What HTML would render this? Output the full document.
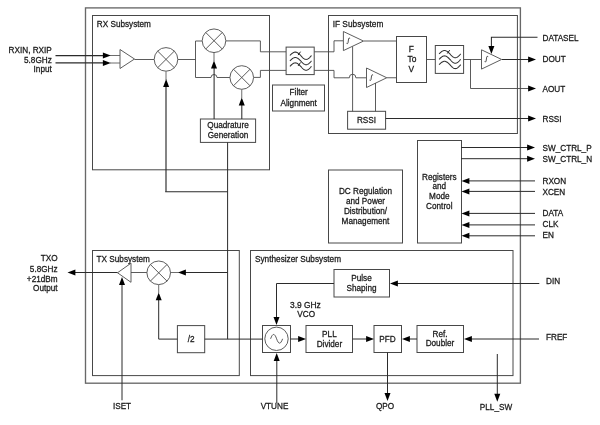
<!DOCTYPE html>
<html><head><meta charset="utf-8"><title>Block diagram</title>
<style>
html,body{margin:0;padding:0;background:#fff;}
body{width:600px;height:425px;overflow:hidden;}
svg{display:block;filter:grayscale(1) blur(0.3px);font-family:"Liberation Sans",sans-serif;}
text{fill:#1a1a1a;stroke:#1a1a1a;stroke-width:0.28px;}
</style></head><body>
<svg width="600" height="425" viewBox="0 0 600 425">
<rect width="600" height="425" fill="#fff"/>
<rect x="85.5" y="7.9" width="434.9" height="375.3" fill="none" stroke="#686868" stroke-width="1.35"/>
<rect x="92.5" y="15.5" width="177.0" height="154.3" fill="none" stroke="#484848" stroke-width="1"/>
<rect x="328.5" y="15.5" width="188.89999999999998" height="118.0" fill="none" stroke="#484848" stroke-width="1"/>
<rect x="92.5" y="250.5" width="146.8" height="125.10000000000002" fill="none" stroke="#484848" stroke-width="1"/>
<rect x="250.5" y="250.5" width="262.5" height="125.10000000000002" fill="none" stroke="#484848" stroke-width="1"/>
<rect x="417.5" y="140.5" width="44.0" height="102.5" fill="none" stroke="#484848" stroke-width="1"/>
<rect x="328.5" y="170" width="74.0" height="73" fill="none" stroke="#484848" stroke-width="1"/>
<rect x="272.5" y="85" width="52.0" height="26" fill="none" stroke="#484848" stroke-width="1"/>
<rect x="200.4" y="119" width="55.19999999999999" height="23.400000000000006" fill="none" stroke="#484848" stroke-width="1"/>
<rect x="347.6" y="111.3" width="38.0" height="17.89999999999999" fill="none" stroke="#484848" stroke-width="1"/>
<rect x="396.5" y="36.5" width="30.0" height="46.0" fill="none" stroke="#484848" stroke-width="1"/>
<rect x="334" y="269.5" width="55.5" height="27.5" fill="none" stroke="#484848" stroke-width="1"/>
<rect x="262.5" y="325.5" width="28.0" height="27.0" fill="none" stroke="#484848" stroke-width="1"/>
<rect x="306" y="325.5" width="46.5" height="27.0" fill="none" stroke="#484848" stroke-width="1"/>
<rect x="374" y="325.5" width="27.5" height="27.0" fill="none" stroke="#484848" stroke-width="1"/>
<rect x="417" y="325.5" width="46.5" height="27.0" fill="none" stroke="#484848" stroke-width="1"/>
<rect x="177.4" y="325.6" width="27.299999999999983" height="27.099999999999966" fill="none" stroke="#484848" stroke-width="1"/>
<path d="M55.5 55.6 L104 55.6" fill="none" stroke="#2b2b2b" stroke-width="1.3"/>
<polygon points="110.8,55.6 102.89999999999999,52.6 102.89999999999999,58.6" fill="#000" stroke="none"/>
<path d="M55.5 62.9 L104 62.9" fill="none" stroke="#2b2b2b" stroke-width="1.3"/>
<polygon points="110.8,63.1 102.89999999999999,60.1 102.89999999999999,66.1" fill="#000" stroke="none"/>
<path d="M110 55.5 L120 55.5" fill="none" stroke="#484848" stroke-width="0.8"/>
<path d="M110 63 L120 63" fill="none" stroke="#484848" stroke-width="0.8"/>
<polygon points="120,49.5 134.5,59.0 120,68.5" fill="#fff" stroke="#555" stroke-width="0.95"/>
<path d="M134.5 59.5 L154 59.5" fill="none" stroke="#484848" stroke-width="0.9"/>
<path d="M177.5 59.5 L195.5 59.5" fill="none" stroke="#484848" stroke-width="0.9"/>
<path d="M195.5 41 L195.5 77.5" fill="none" stroke="#484848" stroke-width="0.9"/>
<path d="M195.5 41 L202 41" fill="none" stroke="#484848" stroke-width="0.9"/>
<path d="M195.5 77.5 L211 77.5 A3 3 0 0 1 217 77.5 L230 77.5" fill="none" stroke="#484848" stroke-width="0.9"/>
<path d="M226 40.9 L260.4 40.9 L260.4 51.8 L286.5 51.8" fill="none" stroke="#484848" stroke-width="0.9"/>
<path d="M253.5 77.4 L260.4 77.4 L260.4 70.4 L286.5 70.4" fill="none" stroke="#484848" stroke-width="0.9"/>
<circle cx="166" cy="59.4" r="11.8" fill="#fff" stroke="#555" stroke-width="0.95"/>
<path d="M157.65622 51.056219999999996 L174.34378 67.74378" fill="none" stroke="#484848" stroke-width="0.9"/>
<path d="M157.65622 67.74378 L174.34378 51.056219999999996" fill="none" stroke="#484848" stroke-width="0.9"/>
<circle cx="214" cy="40.75" r="11.8" fill="#fff" stroke="#555" stroke-width="0.95"/>
<path d="M205.65622 32.40622 L222.34378 49.09378" fill="none" stroke="#484848" stroke-width="0.9"/>
<path d="M205.65622 49.09378 L222.34378 32.40622" fill="none" stroke="#484848" stroke-width="0.9"/>
<circle cx="241.75" cy="77.5" r="11.8" fill="#fff" stroke="#555" stroke-width="0.95"/>
<path d="M233.40622 69.15622 L250.09378 85.84378" fill="none" stroke="#484848" stroke-width="0.9"/>
<path d="M233.40622 85.84378 L250.09378 69.15622" fill="none" stroke="#484848" stroke-width="0.9"/>
<path d="M166 191.8 L166 86" fill="none" stroke="#2b2b2b" stroke-width="1.15"/>
<polygon points="166.1,79 163.1,86.9 169.1,86.9" fill="#000" stroke="none"/>
<path d="M166 71.5 L166 80" fill="none" stroke="#484848" stroke-width="0.8"/>
<path d="M165.2 191.8 L227.6 191.8" fill="none" stroke="#2b2b2b" stroke-width="1.1"/>
<path d="M214.1 119 L214.1 67" fill="none" stroke="#2b2b2b" stroke-width="1.05"/>
<polygon points="214,60.5 211.0,68.4 217.0,68.4" fill="#000" stroke="none"/>
<path d="M214 52.5 L214 61" fill="none" stroke="#484848" stroke-width="0.8"/>
<path d="M241.8 119 L241.8 104" fill="none" stroke="#2b2b2b" stroke-width="1.05"/>
<polygon points="241.75,97.5 238.75,105.4 244.75,105.4" fill="#000" stroke="none"/>
<path d="M241.75 89.5 L241.75 98" fill="none" stroke="#484848" stroke-width="0.8"/>
<path d="M227.6 142.4 L227.6 339.1" fill="none" stroke="#2b2b2b" stroke-width="1.0"/>
<rect x="286.1" y="47.1" width="28.099999999999966" height="27.499999999999993" fill="#fff" stroke="#484848" stroke-width="1"/>
<path d="M289.9 55.5 L290.44 54.97 L290.98 54.45 L291.52 53.96 L292.06 53.5 L292.6 53.1 L293.14 52.75 L293.68 52.47 L294.22 52.27 L294.76 52.14 L295.3 52.1 L295.84 52.14 L296.38 52.27 L296.92 52.47 L297.46 52.75 L298.0 53.1 L298.54 53.5 L299.08 53.96 L299.62 54.45 L300.16 54.97 L300.7 55.5 L301.24 56.11 L301.78 56.71 L302.32 57.27 L302.86 57.79 L303.4 58.26 L303.94 58.66 L304.48 58.97 L305.02 59.21 L305.56 59.35 L306.1 59.4 L306.64 59.35 L307.18 59.21 L307.72 58.97 L308.26 58.66 L308.8 58.26 L309.34 57.79 L309.88 57.27 L310.42 56.71 L310.96 56.11 L311.5 55.5" fill="none" stroke="#303030" stroke-width="1.05"/>
<path d="M298.1 55.1 L300.50000000000006 51.7" fill="none" stroke="#222" stroke-width="1.0"/>
<path d="M289.9 60.9 L290.44 60.37 L290.98 59.85 L291.52 59.36 L292.06 58.9 L292.6 58.5 L293.14 58.15 L293.68 57.87 L294.22 57.67 L294.76 57.54 L295.3 57.5 L295.84 57.54 L296.38 57.67 L296.92 57.87 L297.46 58.15 L298.0 58.5 L298.54 58.9 L299.08 59.36 L299.62 59.85 L300.16 60.37 L300.7 60.9 L301.24 61.51 L301.78 62.11 L302.32 62.67 L302.86 63.19 L303.4 63.66 L303.94 64.06 L304.48 64.37 L305.02 64.61 L305.56 64.75 L306.1 64.8 L306.64 64.75 L307.18 64.61 L307.72 64.37 L308.26 64.06 L308.8 63.66 L309.34 63.19 L309.88 62.67 L310.42 62.11 L310.96 61.51 L311.5 60.9" fill="none" stroke="#303030" stroke-width="1.05"/>
<path d="M289.9 66.3 L290.44 65.77 L290.98 65.25 L291.52 64.76 L292.06 64.3 L292.6 63.9 L293.14 63.55 L293.68 63.27 L294.22 63.07 L294.76 62.94 L295.3 62.9 L295.84 62.94 L296.38 63.07 L296.92 63.27 L297.46 63.55 L298.0 63.9 L298.54 64.3 L299.08 64.76 L299.62 65.25 L300.16 65.77 L300.7 66.3 L301.24 66.91 L301.78 67.51 L302.32 68.07 L302.86 68.59 L303.4 69.06 L303.94 69.46 L304.48 69.77 L305.02 70.01 L305.56 70.15 L306.1 70.2 L306.64 70.15 L307.18 70.01 L307.72 69.77 L308.26 69.46 L308.8 69.06 L309.34 68.59 L309.88 68.07 L310.42 67.51 L310.96 66.91 L311.5 66.3" fill="none" stroke="#303030" stroke-width="1.05"/>
<path d="M298.1 65.89999999999999 L300.50000000000006 62.5" fill="none" stroke="#222" stroke-width="1.0"/>
<path d="M314.25 51.8 L334 51.8 L334 40.8 L343.4 40.8" fill="none" stroke="#484848" stroke-width="0.9"/>
<path d="M314.25 70.4 L334 70.4 L334 77.8 L349.3 77.8 A3.3 3.6 0 0 1 355.9 77.8 L366.5 77.8" fill="none" stroke="#484848" stroke-width="0.9"/>
<polygon points="343.4,31.5 363.5,41.05 343.4,50.6" fill="#fff" stroke="#555" stroke-width="0.95"/>
<polygon points="366.5,68 386.75,77.75 366.5,87.5" fill="#fff" stroke="#555" stroke-width="0.95"/>
<path d="M363.75 41 L396.5 41" fill="none" stroke="#484848" stroke-width="0.9"/>
<path d="M386.75 77.75 L396.5 77.75" fill="none" stroke="#484848" stroke-width="0.9"/>
<path d="M352.6 46.5 L352.6 111.3" fill="none" stroke="#484848" stroke-width="0.9"/>
<path d="M375.5 83 L375.5 111.3" fill="none" stroke="#484848" stroke-width="0.9"/>
<path d="M426.5 59.5 L435.5 59.5" fill="none" stroke="#484848" stroke-width="0.9"/>
<rect x="435.3" y="45.5" width="28.30000000000001" height="27.900000000000006" fill="#fff" stroke="#484848" stroke-width="1"/>
<path d="M439.1 53.9 L439.64 53.37 L440.18 52.85 L440.72 52.36 L441.26 51.9 L441.8 51.5 L442.34 51.15 L442.88 50.87 L443.42 50.67 L443.96 50.54 L444.5 50.5 L445.04 50.54 L445.58 50.67 L446.12 50.87 L446.66 51.15 L447.2 51.5 L447.74 51.9 L448.28 52.36 L448.82 52.85 L449.36 53.37 L449.9 53.9 L450.44 54.51 L450.98 55.11 L451.52 55.67 L452.06 56.19 L452.6 56.66 L453.14 57.06 L453.68 57.37 L454.22 57.61 L454.76 57.75 L455.3 57.8 L455.84 57.75 L456.38 57.61 L456.92 57.37 L457.46 57.06 L458.0 56.66 L458.54 56.19 L459.08 55.67 L459.62 55.11 L460.16 54.51 L460.7 53.9" fill="none" stroke="#303030" stroke-width="1.05"/>
<path d="M447.3 53.5 L449.70000000000005 50.1" fill="none" stroke="#222" stroke-width="1.0"/>
<path d="M439.1 59.3 L439.64 58.77 L440.18 58.25 L440.72 57.76 L441.26 57.3 L441.8 56.9 L442.34 56.55 L442.88 56.27 L443.42 56.07 L443.96 55.94 L444.5 55.9 L445.04 55.94 L445.58 56.07 L446.12 56.27 L446.66 56.55 L447.2 56.9 L447.74 57.3 L448.28 57.76 L448.82 58.25 L449.36 58.77 L449.9 59.3 L450.44 59.91 L450.98 60.51 L451.52 61.07 L452.06 61.59 L452.6 62.06 L453.14 62.46 L453.68 62.77 L454.22 63.01 L454.76 63.15 L455.3 63.2 L455.84 63.15 L456.38 63.01 L456.92 62.77 L457.46 62.46 L458.0 62.06 L458.54 61.59 L459.08 61.07 L459.62 60.51 L460.16 59.91 L460.7 59.3" fill="none" stroke="#303030" stroke-width="1.05"/>
<path d="M439.1 64.7 L439.64 64.17 L440.18 63.65 L440.72 63.16 L441.26 62.7 L441.8 62.3 L442.34 61.95 L442.88 61.67 L443.42 61.47 L443.96 61.34 L444.5 61.3 L445.04 61.34 L445.58 61.47 L446.12 61.67 L446.66 61.95 L447.2 62.3 L447.74 62.7 L448.28 63.16 L448.82 63.65 L449.36 64.17 L449.9 64.7 L450.44 65.31 L450.98 65.91 L451.52 66.47 L452.06 66.99 L452.6 67.46 L453.14 67.86 L453.68 68.17 L454.22 68.41 L454.76 68.55 L455.3 68.6 L455.84 68.55 L456.38 68.41 L456.92 68.17 L457.46 67.86 L458.0 67.46 L458.54 66.99 L459.08 66.47 L459.62 65.91 L460.16 65.31 L460.7 64.7" fill="none" stroke="#303030" stroke-width="1.05"/>
<path d="M463.5 59.5 L481.25 59.5" fill="none" stroke="#484848" stroke-width="0.9"/>
<polygon points="481.5,49.8 501.6,59.449999999999996 481.5,69.1" fill="#fff" stroke="#555" stroke-width="0.95"/>
<path d="M470.5 59.5 L470.5 88.5 L529 88.5" fill="none" stroke="#484848" stroke-width="0.9"/>
<polygon points="536,88.5 528.1,85.5 528.1,91.5" fill="#000" stroke="none"/>
<path d="M502 59.5 L529 59.5" fill="none" stroke="#2b2b2b" stroke-width="1.0"/>
<polygon points="536,59.5 528.1,56.5 528.1,62.5" fill="#000" stroke="none"/>
<path d="M537.5 37.3 L491.4 37.3 L491.4 47" fill="none" stroke="#2b2b2b" stroke-width="1.05"/>
<polygon points="491.4,54 488.4,46.1 494.4,46.1" fill="#000" stroke="none"/>
<path d="M385.6 118.5 L529 118.5" fill="none" stroke="#2b2b2b" stroke-width="1.0"/>
<polygon points="536,118.5 528.1,115.5 528.1,121.5" fill="#000" stroke="none"/>
<path d="M461 147.5 L528 147.5" fill="none" stroke="#2b2b2b" stroke-width="1.0"/>
<polygon points="535,147.5 527.1,144.5 527.1,150.5" fill="#000" stroke="none"/>
<path d="M461 158.7 L528 158.7" fill="none" stroke="#2b2b2b" stroke-width="1.0"/>
<polygon points="535,158.7 527.1,155.7 527.1,161.7" fill="#000" stroke="none"/>
<path d="M468 180.9 L535 180.9" fill="none" stroke="#2b2b2b" stroke-width="1.0"/>
<polygon points="461.5,180.9 469.4,177.9 469.4,183.9" fill="#000" stroke="none"/>
<path d="M468 191.4 L535 191.4" fill="none" stroke="#2b2b2b" stroke-width="1.0"/>
<polygon points="461.5,191.4 469.4,188.4 469.4,194.4" fill="#000" stroke="none"/>
<path d="M468 213.4 L535 213.4" fill="none" stroke="#2b2b2b" stroke-width="1.0"/>
<polygon points="461.5,213.4 469.4,210.4 469.4,216.4" fill="#000" stroke="none"/>
<path d="M468 224.9 L535 224.9" fill="none" stroke="#2b2b2b" stroke-width="1.0"/>
<polygon points="461.5,224.9 469.4,221.9 469.4,227.9" fill="#000" stroke="none"/>
<path d="M468 235.8 L535 235.8" fill="none" stroke="#2b2b2b" stroke-width="1.0"/>
<polygon points="461.5,235.8 469.4,232.8 469.4,238.8" fill="#000" stroke="none"/>
<path d="M539.3 283.5 L396 283.5" fill="none" stroke="#2b2b2b" stroke-width="1.0"/>
<polygon points="390,283.5 397.9,280.5 397.9,286.5" fill="#000" stroke="none"/>
<path d="M334 283.5 L276.5 283.5 L276.5 318" fill="none" stroke="#2b2b2b" stroke-width="1.0"/>
<polygon points="276.5,325 273.5,317.1 279.5,317.1" fill="#000" stroke="none"/>
<circle cx="276.5" cy="338.8" r="11.7" fill="#fff" stroke="#555" stroke-width="0.95"/>
<path d="M270.6 338.8 C272.6 333 274.6 333 276.6 338.8 S280.6 344.6 282.6 338.8" fill="none" stroke="#484848" stroke-width="0.9"/>
<path d="M290.5 339 L299 339" fill="none" stroke="#2b2b2b" stroke-width="1.0"/>
<polygon points="306,339 298.1,336.0 298.1,342.0" fill="#000" stroke="none"/>
<path d="M352.5 339 L367 339" fill="none" stroke="#2b2b2b" stroke-width="1.0"/>
<polygon points="374,339 366.1,336.0 366.1,342.0" fill="#000" stroke="none"/>
<path d="M417 339 L408 339" fill="none" stroke="#2b2b2b" stroke-width="1.0"/>
<polygon points="402,339 409.9,336.0 409.9,342.0" fill="#000" stroke="none"/>
<path d="M539 339 L470 339" fill="none" stroke="#2b2b2b" stroke-width="1.0"/>
<polygon points="464,339 471.9,336.0 471.9,342.0" fill="#000" stroke="none"/>
<path d="M387.5 352.5 L387.5 393" fill="none" stroke="#2b2b2b" stroke-width="1.0"/>
<polygon points="387.5,401 384.5,393.1 390.5,393.1" fill="#000" stroke="none"/>
<path d="M497.3 354 L497.3 395" fill="none" stroke="#2b2b2b" stroke-width="1.0"/>
<polygon points="497.3,401.7 494.3,393.8 500.3,393.8" fill="#000" stroke="none"/>
<path d="M276.8 403 L276.8 360" fill="none" stroke="#2b2b2b" stroke-width="1.0"/>
<polygon points="276.7,353 273.7,360.9 279.7,360.9" fill="#000" stroke="none"/>
<path d="M122 400.3 L122 284" fill="none" stroke="#2b2b2b" stroke-width="1.0"/>
<polygon points="122,277 119.0,284.9 125.0,284.9" fill="#000" stroke="none"/>
<path d="M204.7 339.1 L262.5 339.1" fill="none" stroke="#2b2b2b" stroke-width="1.0"/>
<path d="M177.4 339.1 L158.7 339.1 L158.7 299" fill="none" stroke="#2b2b2b" stroke-width="1.0"/>
<polygon points="158.7,292.4 155.7,300.29999999999995 161.7,300.29999999999995" fill="#000" stroke="none"/>
<path d="M158.7 284.6 L158.7 293" fill="none" stroke="#484848" stroke-width="0.8"/>
<circle cx="158.7" cy="272.8" r="11.8" fill="#fff" stroke="#555" stroke-width="0.95"/>
<path d="M150.35621999999998 264.45622000000003 L167.04378 281.14378" fill="none" stroke="#484848" stroke-width="0.9"/>
<path d="M150.35621999999998 281.14378 L167.04378 264.45622000000003" fill="none" stroke="#484848" stroke-width="0.9"/>
<polygon points="131,263.2 117.5,272.75 131,282.3" fill="#fff" stroke="#555" stroke-width="0.95"/>
<path d="M131 272.5 L146.9 272.5" fill="none" stroke="#484848" stroke-width="0.9"/>
<path d="M227.5 272.5 L185 272.5" fill="none" stroke="#2b2b2b" stroke-width="1.0"/>
<polygon points="178,272.6 185.9,269.6 185.9,275.6" fill="#000" stroke="none"/>
<path d="M170.5 272.5 L179 272.5" fill="none" stroke="#484848" stroke-width="0.8"/>
<path d="M117.5 272.5 L74 272.5" fill="none" stroke="#2b2b2b" stroke-width="1.0"/>
<polygon points="67.5,272.6 75.4,269.6 75.4,275.6" fill="#000" stroke="none"/>
<text transform="translate(96.8,26.8) scale(0.93,1)" text-anchor="start" font-size="8.81" >RX Subsystem</text>
<text transform="translate(332.7,27) scale(0.93,1)" text-anchor="start" font-size="8.92" >IF Subsystem</text>
<text transform="translate(96.6,262.4) scale(0.93,1)" text-anchor="start" font-size="8.81" >TX Subsystem</text>
<text transform="translate(255,262.4) scale(0.93,1)" text-anchor="start" font-size="8.87" >Synthesizer Subsystem</text>
<text transform="translate(51.8,52.7) scale(0.93,1)" text-anchor="end" font-size="8.81" >RXIN, RXIP</text>
<text transform="translate(51.8,62.7) scale(0.93,1)" text-anchor="end" font-size="8.81" >5.8GHz</text>
<text transform="translate(51.8,72.2) scale(0.93,1)" text-anchor="end" font-size="8.81" >Input</text>
<text transform="translate(57.6,261.2) scale(0.93,1)" text-anchor="end" font-size="8.81" >TXO</text>
<text transform="translate(57.6,271.9) scale(0.93,1)" text-anchor="end" font-size="8.81" >5.8GHz</text>
<text transform="translate(57.6,281.7) scale(0.93,1)" text-anchor="end" font-size="8.81" >+21dBm</text>
<text transform="translate(57.6,291.3) scale(0.93,1)" text-anchor="end" font-size="8.81" >Output</text>
<text transform="translate(228,127.7) scale(0.93,1)" text-anchor="middle" font-size="8.81" >Quadrature</text>
<text transform="translate(228,137.8) scale(0.93,1)" text-anchor="middle" font-size="8.81" >Generation</text>
<text transform="translate(298.7,95.3) scale(0.93,1)" text-anchor="middle" font-size="8.81" >Filter</text>
<text transform="translate(298.7,106.1) scale(0.93,1)" text-anchor="middle" font-size="8.81" >Alignment</text>
<text transform="translate(366.5,123) scale(0.93,1)" text-anchor="middle" font-size="8.81" >RSSI</text>
<text transform="translate(411.4,51.9) scale(0.93,1)" text-anchor="middle" font-size="9.03" >F</text>
<text transform="translate(412,61.9) scale(0.93,1)" text-anchor="middle" font-size="9.03" >To</text>
<text transform="translate(411.4,71.9) scale(0.93,1)" text-anchor="middle" font-size="9.03" >V</text>
<text transform="translate(365.5,194.3) scale(0.93,1)" text-anchor="middle" font-size="8.81" >DC Regulation</text>
<text transform="translate(365.5,204.3) scale(0.93,1)" text-anchor="middle" font-size="8.81" >and Power</text>
<text transform="translate(365.5,214.2) scale(0.93,1)" text-anchor="middle" font-size="8.81" >Distribution/</text>
<text transform="translate(365.5,224) scale(0.93,1)" text-anchor="middle" font-size="8.81" >Management</text>
<text transform="translate(439.3,179.8) scale(0.93,1)" text-anchor="middle" font-size="8.81" >Registers</text>
<text transform="translate(439.3,189.2) scale(0.93,1)" text-anchor="middle" font-size="8.81" >and</text>
<text transform="translate(439.3,198.9) scale(0.93,1)" text-anchor="middle" font-size="8.81" >Mode</text>
<text transform="translate(439.3,208.6) scale(0.93,1)" text-anchor="middle" font-size="8.81" >Control</text>
<text transform="translate(542.5,40.6) scale(0.93,1)" text-anchor="start" font-size="8.81" >DATASEL</text>
<text transform="translate(542.5,62.3) scale(0.93,1)" text-anchor="start" font-size="8.81" >DOUT</text>
<text transform="translate(542.5,91.6) scale(0.93,1)" text-anchor="start" font-size="8.81" >AOUT</text>
<text transform="translate(542.5,121.6) scale(0.93,1)" text-anchor="start" font-size="8.81" >RSSI</text>
<text transform="translate(542.5,150.6) scale(0.93,1)" text-anchor="start" font-size="8.81" >SW_CTRL_P</text>
<text transform="translate(542.5,161.8) scale(0.93,1)" text-anchor="start" font-size="8.81" >SW_CTRL_N</text>
<text transform="translate(542.5,183.6) scale(0.93,1)" text-anchor="start" font-size="8.81" >RXON</text>
<text transform="translate(542.5,194.6) scale(0.93,1)" text-anchor="start" font-size="8.81" >XCEN</text>
<text transform="translate(542.5,216.4) scale(0.93,1)" text-anchor="start" font-size="8.81" >DATA</text>
<text transform="translate(542.5,227) scale(0.93,1)" text-anchor="start" font-size="8.81" >CLK</text>
<text transform="translate(542.5,238.4) scale(0.93,1)" text-anchor="start" font-size="8.81" >EN</text>
<text transform="translate(546,283.9) scale(0.93,1)" text-anchor="start" font-size="8.81" >DIN</text>
<text transform="translate(546,340.1) scale(0.93,1)" text-anchor="start" font-size="8.81" >FREF</text>
<text transform="translate(361.5,281) scale(0.93,1)" text-anchor="middle" font-size="8.81" >Pulse</text>
<text transform="translate(361.5,291.4) scale(0.93,1)" text-anchor="middle" font-size="8.81" >Shaping</text>
<text transform="translate(290,307.5) scale(0.93,1)" text-anchor="start" font-size="9.03" >3.9 GHz</text>
<text transform="translate(297.3,317) scale(0.93,1)" text-anchor="start" font-size="8.81" >VCO</text>
<text transform="translate(329.4,336.7) scale(0.93,1)" text-anchor="middle" font-size="8.81" >PLL</text>
<text transform="translate(329.4,346.7) scale(0.93,1)" text-anchor="middle" font-size="8.81" >Divider</text>
<text transform="translate(387.5,341.8) scale(0.93,1)" text-anchor="middle" font-size="8.81" >PFD</text>
<text transform="translate(440,336.5) scale(0.93,1)" text-anchor="middle" font-size="8.81" >Ref.</text>
<text transform="translate(440,346.3) scale(0.93,1)" text-anchor="middle" font-size="8.81" >Doubler</text>
<text transform="translate(191.1,342.4) scale(0.93,1)" text-anchor="middle" font-size="8.81" >/2</text>
<text transform="translate(122,408.5) scale(0.93,1)" text-anchor="middle" font-size="8.81" >ISET</text>
<text transform="translate(274.5,408.5) scale(0.93,1)" text-anchor="middle" font-size="8.81" >VTUNE</text>
<text transform="translate(385,409) scale(0.93,1)" text-anchor="middle" font-size="8.81" >QPO</text>
<text transform="translate(496,409.5) scale(0.93,1)" text-anchor="middle" font-size="8.81" >PLL_SW</text>
<path d="M346.5 43.3 Q347.8 44.199999999999996 348.0 42.8 L348.6 38.8 Q348.8 37.4 350.1 38.3" fill="none" stroke="#333" stroke-width="0.85"/>
<path d="M369.5 80.1 Q370.8 81.0 371.0 79.6 L371.6 75.6 Q371.8 74.19999999999999 373.1 75.1" fill="none" stroke="#333" stroke-width="0.85"/>
<path d="M484.59999999999997 61.6 Q485.9 62.5 486.09999999999997 61.1 L486.7 57.1 Q486.9 55.7 488.2 56.6" fill="none" stroke="#333" stroke-width="0.85"/>
</svg>
</body></html>
